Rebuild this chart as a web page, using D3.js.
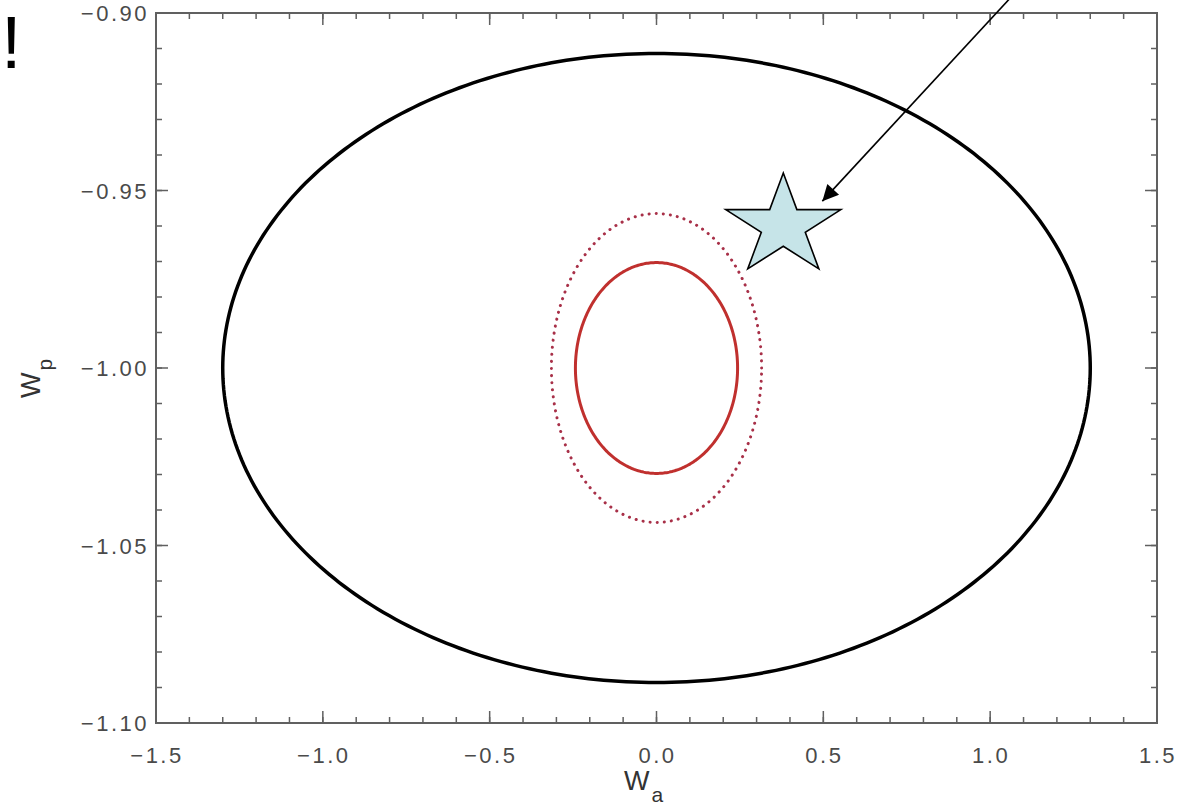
<!DOCTYPE html>
<html>
<head>
<meta charset="utf-8">
<script src="https://cdn.jsdelivr.net/npm/d3@7"></script>
<style>
  body { margin:0; background:#fff; }
  svg { display:block; font-family:"Liberation Sans", Arial, sans-serif; }
</style>
</head>
<body>
<div id="plot"></div>
<script>
// axis ranges and ticks
var xDomain = [-1.5, 1.5];
var yDomain = [-1.10, -0.90];
var xTicks = [-1.5, -1.0, -0.5, 0.0, 0.5, 1.0, 1.5];
var yTicks = [-1.10, -1.05, -1.00, -0.95, -0.90];

// contours: centre (wa, wp) and half widths
var ellipseNames = ['outer', 'inner95', 'inner68'];
var ellipseCx = [0.0, 0.0, 0.0];
var ellipseCy = [-1.00, -1.00, -1.00];
var ellipseRx = [1.30, 0.315, 0.243];
var ellipseRy = [0.0886, 0.0435, 0.0297];

// marked point and the arrow pointing at it
var starPoint = [0.38, -0.960];
var arrowFrom = [1.06, -0.8958];
var arrowTo = [0.497, -0.953];

var W = 1178, H = 812;
var margin = {t:13, r:20, b:89, l:156};
var width = 1157 - margin.l, height = 723 - margin.t;

var svg = d3.select('#plot').append('svg')
  .attr('width', W).attr('height', H);

var defs = svg.append('defs');
defs.append('marker')
  .attr('id', 'head')
  .attr('viewBox', '0 0 10 10')
  .attr('refX', 10).attr('refY', 5)
  .attr('markerUnits', 'userSpaceOnUse')
  .attr('markerWidth', 22).attr('markerHeight', 16)
  .attr('orient', 'auto')
  .append('path').attr('d', 'M0,0 L10,5 L0,10 z').attr('fill', '#000');

var plot = svg.append('g')
  .attr('transform', 'translate(' + margin.l + ',' + margin.t + ')');

var x = d3.scaleLinear().domain(xDomain).range([0, width]);
var y = d3.scaleLinear().domain(yDomain).range([height, 0]);

var frameCol = '#606060', labelCol = '#4a4a4a';

// minor and major ticks on all four sides
function tickLines(vals, len, isX) {
  vals.forEach(function(v) {
    if (isX) {
      plot.append('line').attr('x1', x(v)).attr('x2', x(v)).attr('y1', height).attr('y2', height - len)
        .attr('stroke', frameCol).attr('stroke-width', 1.5);
      plot.append('line').attr('x1', x(v)).attr('x2', x(v)).attr('y1', 0).attr('y2', len)
        .attr('stroke', frameCol).attr('stroke-width', 1.5);
    } else {
      plot.append('line').attr('y1', y(v)).attr('y2', y(v)).attr('x1', 0).attr('x2', len)
        .attr('stroke', frameCol).attr('stroke-width', 1.5);
      plot.append('line').attr('y1', y(v)).attr('y2', y(v)).attr('x1', width).attr('x2', width - len)
        .attr('stroke', frameCol).attr('stroke-width', 1.5);
    }
  });
}
tickLines(d3.range(-15, 16).map(function(i){ return i / 10; }), 6, true);
tickLines(xTicks, 12, true);
tickLines(d3.range(-110, -89).map(function(i){ return i / 100; }), 6, false);
tickLines(yTicks, 12, false);

plot.append('rect')
  .attr('x', 0).attr('y', 0).attr('width', width).attr('height', height)
  .attr('fill', 'none').attr('stroke', frameCol).attr('stroke-width', 2);

// tick labels
plot.selectAll('.xl').data(xTicks).enter().append('text')
  .attr('x', function(d){ return x(d) + 1; }).attr('y', height + 40)
  .attr('text-anchor', 'middle').attr('font-size', 22).attr('letter-spacing', 2.5).attr('fill', labelCol)
  .text(function(d){ return d3.format('.1f')(d).replace('-', '\u2212'); });

plot.selectAll('.yl').data(yTicks).enter().append('text')
  .attr('x', -7).attr('y', function(d){ return y(d) + 8; })
  .attr('text-anchor', 'end').attr('font-size', 22).attr('letter-spacing', 2.5).attr('fill', labelCol)
  .text(function(d){ return d3.format('.2f')(d).replace('-', '\u2212'); });

// axis titles
svg.append('text').attr('x', 624).attr('y', 790).attr('font-size', 27).attr('fill', '#333')
  .text('W').append('tspan').attr('dy', 12).attr('dx', 2).attr('font-size', 21).text('a');

svg.append('text').attr('transform', 'translate(40,398) rotate(-90)')
  .attr('font-size', 27).attr('fill', '#333')
  .text('W').append('tspan').attr('dy', 12).attr('dx', 2).attr('font-size', 21).text('p');

// contours
var styles = {
  outer:   {stroke:'#000', width:3.5, dash:null},
  inner95: {stroke:'#a83048', width:3, dash:'0.1,7'},
  inner68: {stroke:'#c0302e', width:3, dash:null}
};
var line = d3.line().x(function(d){ return x(d[0]); }).y(function(d){ return y(d[1]); }).curve(d3.curveLinearClosed);

ellipseNames.forEach(function(name, i) {
  var pts = d3.range(0, 360, 1).map(function(a) {
    var t = a * Math.PI / 180;
    return [ellipseCx[i] + ellipseRx[i] * Math.cos(t), ellipseCy[i] + ellipseRy[i] * Math.sin(t)];
  });
  var s = styles[name];
  plot.append('path').attr('d', line(pts))
    .attr('fill', 'none').attr('stroke', s.stroke).attr('stroke-width', s.width)
    .attr('stroke-linecap', 'round')
    .attr('stroke-dasharray', s.dash);
});

// star marker
var sx = x(starPoint[0]), sy = y(starPoint[1]);
var starPts = d3.range(10).map(function(k) {
  var ang = -Math.PI / 2 + k * Math.PI / 5;
  var rx = k % 2 ? 60.5 * 0.382 : 60.5, ry = k % 2 ? 53 * 0.382 : 53;
  return [sx + rx * Math.cos(ang), sy + ry * Math.sin(ang)];
});
plot.append('polygon')
  .attr('points', starPts.map(function(p){ return p.join(','); }).join(' '))
  .attr('fill', '#c6e4e8').attr('stroke', '#000').attr('stroke-width', 1.6)
  .attr('stroke-linejoin', 'miter');

// arrow
plot.append('line')
  .attr('x1', x(arrowFrom[0])).attr('y1', y(arrowFrom[1]))
  .attr('x2', x(arrowTo[0])).attr('y2', y(arrowTo[1]))
  .attr('stroke', '#000').attr('stroke-width', 1.6)
  .attr('marker-end', 'url(#head)');

// stray mark at top left
svg.append('text').attr('x', 1).attr('y', 68).attr('font-size', 74).attr('fill', '#000')
  .text('!');
</script>
</body>
</html>
